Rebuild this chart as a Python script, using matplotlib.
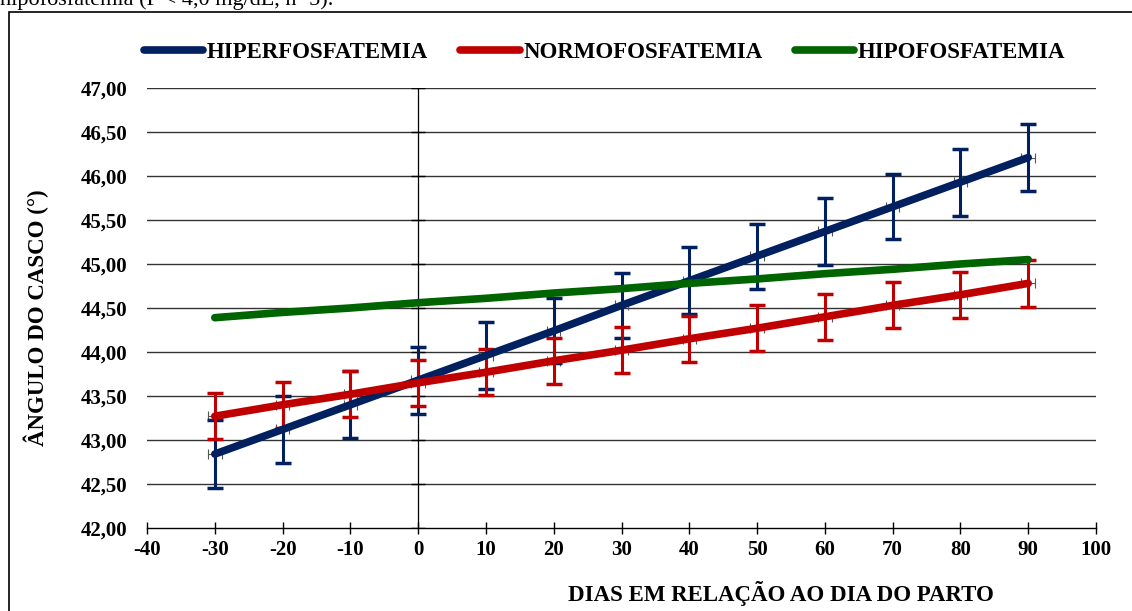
import matplotlib
matplotlib.use("Agg")
import matplotlib.pyplot as plt
from matplotlib.patches import Rectangle
from matplotlib.ticker import FuncFormatter

plt.rcParams['font.family'] = ['Liberation Serif', 'DejaVu Serif']
plt.rcParams['axes.unicode_minus'] = False

# Data
days = [-30, -20, -10, 0, 10, 20, 30, 40, 50, 60, 70, 80, 90]
hiper = [42.84, 43.12, 43.40, 43.68, 43.96, 44.24, 44.53, 44.81, 45.09, 45.37, 45.65, 45.93, 46.21]
hiper_err = [0.39, 0.38, 0.38, 0.38, 0.38, 0.37, 0.37, 0.38, 0.37, 0.38, 0.37, 0.38, 0.38]
normo = [43.27, 43.40, 43.52, 43.65, 43.77, 43.90, 44.02, 44.15, 44.27, 44.40, 44.53, 44.65, 44.78]
normo_err = [0.26, 0.26, 0.26, 0.26, 0.26, 0.26, 0.26, 0.26, 0.26, 0.26, 0.26, 0.26, 0.27]
hipo = [44.39, 44.45, 44.50, 44.56, 44.61, 44.67, 44.72, 44.78, 44.83, 44.89, 44.94, 45.00, 45.05]
day_err = [1] * len(days)

labels = ['HIPERFOSFATEMIA', 'NORMOFOSFATEMIA', 'HIPOFOSFATEMIA']
colors = ['#002060', '#C00000', '#006400']
yticks = [42.0, 42.5, 43.0, 43.5, 44.0, 44.5, 45.0, 45.5, 46.0, 46.5, 47.0]
xticks = list(range(-40, 101, 10))

fig = plt.figure(figsize=(11.32, 6.11), dpi=100)
ax = fig.add_axes([147 / 1132, 1 - 528 / 611, (1096 - 147) / 1132, 440 / 611])

# grid and axes
for y in yticks[1:]:
    ax.axhline(y, color='#333333', lw=1.0, zorder=1)
ax.axvline(0, color='black', lw=0.9, zorder=1)
ax.plot([0] * len(yticks), yticks, ls='none', marker='_', ms=10, mew=1.0, color='black', zorder=1)

handles = []
series = [(hiper, hiper_err), (normo, normo_err), (hipo, None)]
for (vals, err), lab, col in zip(series, labels, colors):
    if err is not None:
        # small horizontal bars (grey) at each point
        ax.errorbar(days, vals, xerr=day_err, fmt='none', ecolor='#555555', elinewidth=0.8,
                    capsize=3.5, capthick=0.8, zorder=2)
        ax.errorbar(days, vals, yerr=err, fmt='none', ecolor=col, elinewidth=2.2,
                    capsize=6, capthick=2.5, zorder=3)
    ln, = ax.plot(days, vals, color=col, lw=5.5, solid_capstyle='round', label=lab, zorder=4)
    handles.append(ln)

ax.set_xlim(-40, 100)
ax.set_ylim(42, 47)
ax.set_xticks(xticks)
ax.set_yticks(yticks)
ax.yaxis.set_major_formatter(FuncFormatter(lambda v, p: f'{v:.2f}'.replace('.', ',')))
for s in ['top', 'right', 'left']:
    ax.spines[s].set_visible(False)
ax.spines['bottom'].set_linewidth(1.0)
ax.tick_params(axis='x', direction='inout', length=9, width=1.0, pad=4,
               labelsize=15)
ax.tick_params(axis='y', length=0, pad=14, labelsize=15)
for t in ax.get_xticklabels() + ax.get_yticklabels():
    t.set_fontweight('bold')

# axis titles
fig.text(36 / 1132, 0.48, 'ÂNGULO DO CASCO (°)', rotation=90, ha='center', va='center',
         fontsize=16.5, fontweight='bold')
fig.text(781 / 1132, 1 - 593 / 611, 'DIAS EM RELAÇÃO AO DIA DO PARTO', ha='center', va='center',
         fontsize=16.5, fontweight='bold')

# legend
fig.legend(handles=handles, labels=labels, loc='center', bbox_to_anchor=(0.534, 1 - 52 / 611),
           ncol=3, frameon=False, handlelength=2.6, handletextpad=0.15, columnspacing=1.4,
           prop={'weight': 'bold', 'size': 16.5})

# outer border and cut-off caption
fig.add_artist(Rectangle((9 / 1132, -0.05), 1.2, 1 - 12 / 611 + 0.05, transform=fig.transFigure,
                         fill=False, lw=1.2, edgecolor='black'))
fig.text(0.0, 1 - 5 / 611, 'hipofosfatemia (P < 4,0 mg/dL, n=5).', ha='left', va='baseline',
         fontsize=16)

fig.savefig('out.png', dpi=100)
